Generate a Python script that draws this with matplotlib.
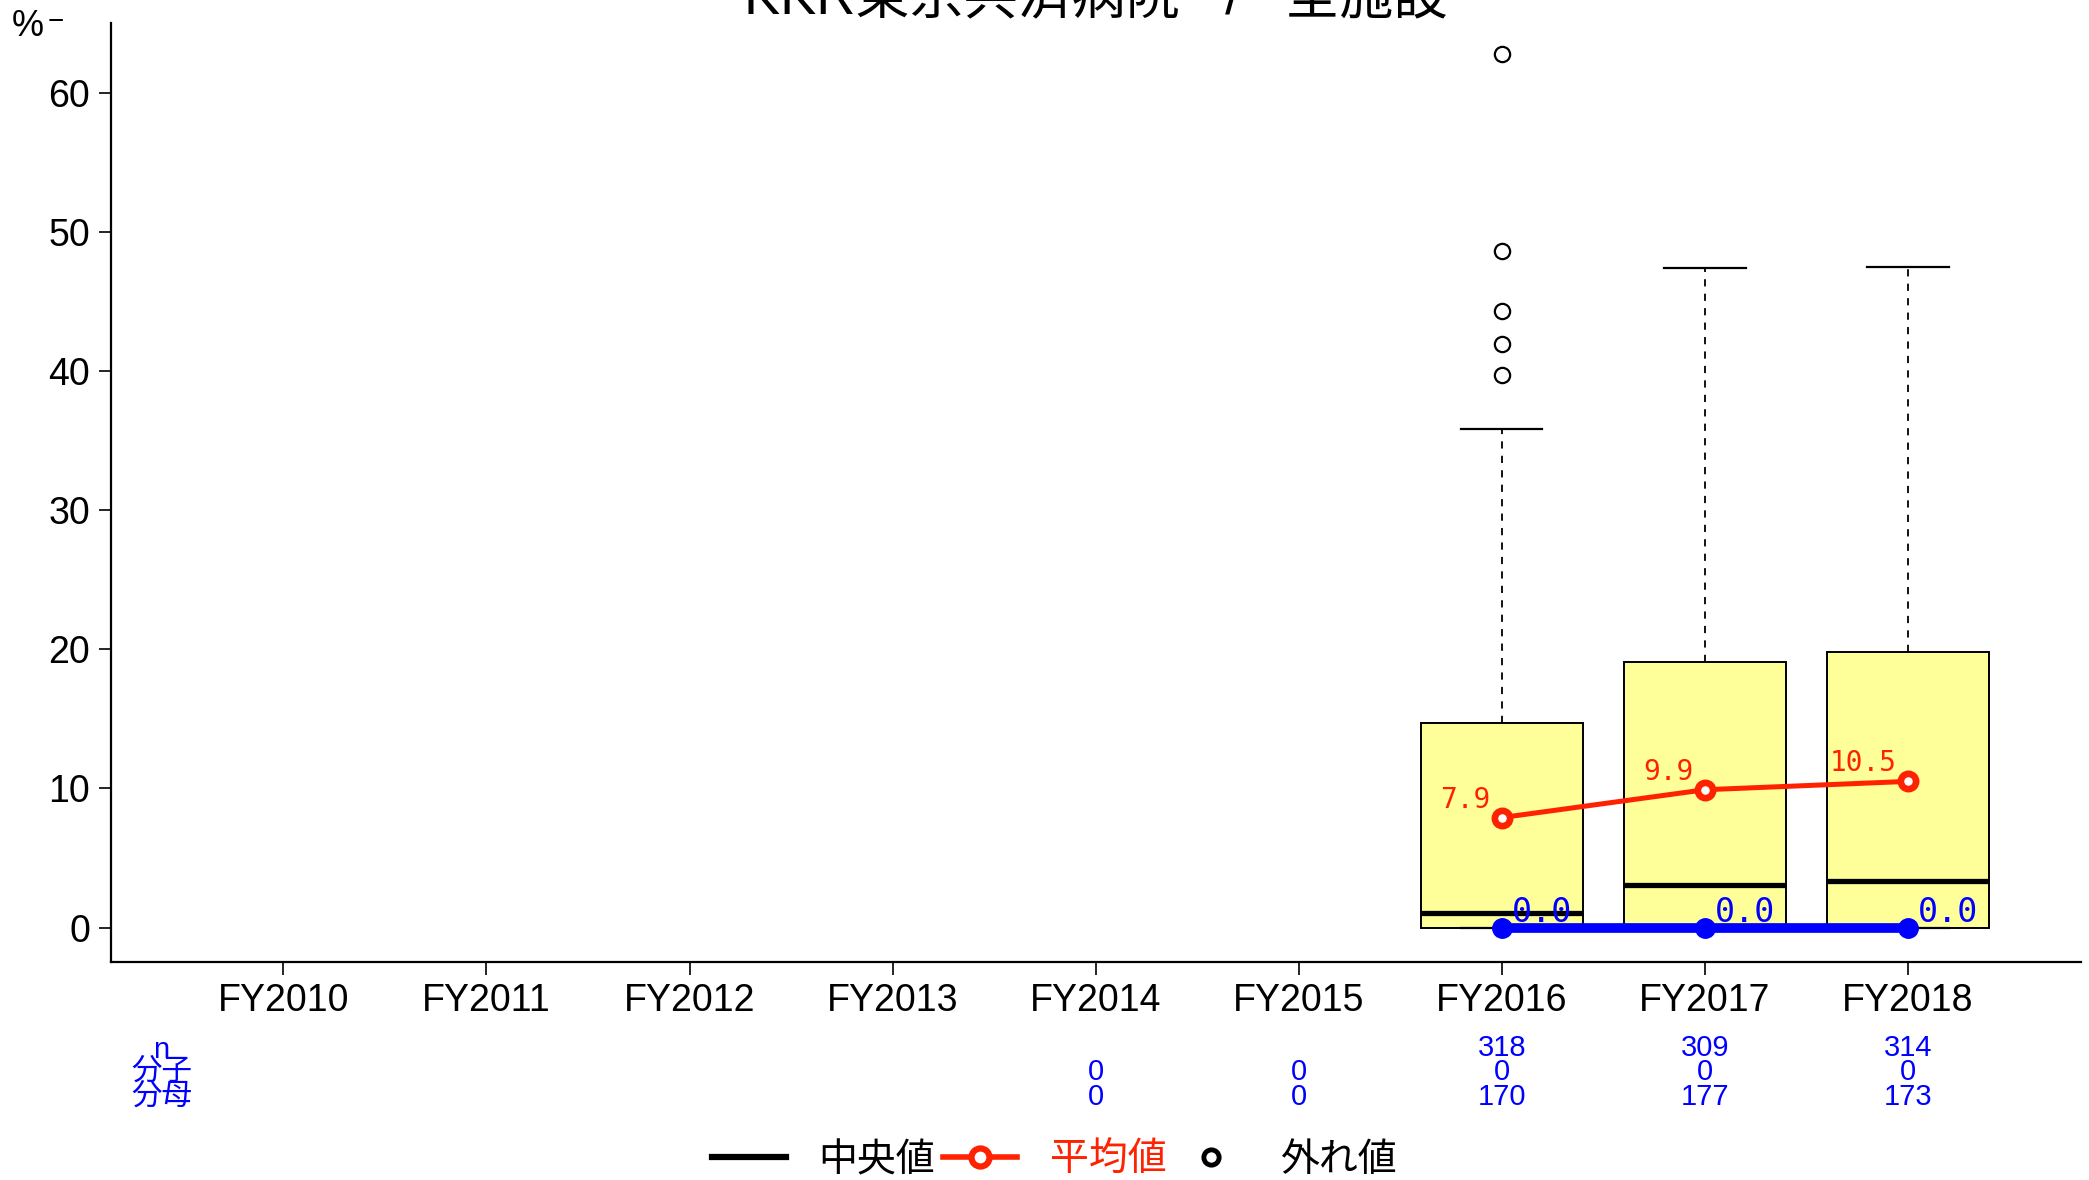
import matplotlib
matplotlib.use("Agg")
import matplotlib.pyplot as plt
from matplotlib.lines import Line2D
from matplotlib import font_manager as fm
import matplotlib.transforms as mtrans

# ---- data ----
years = ["FY2010", "FY2011", "FY2012", "FY2013", "FY2014", "FY2015", "FY2016", "FY2017", "FY2018"]
box_idx = [6, 7, 8]
q1 = [0.0, 0.0, 0.0]
med = [1.05, 3.05, 3.35]
q3 = [14.7, 19.1, 19.8]
whislo = [0.0, 0.0, 0.0]
whishi = [35.8, 47.4, 47.5]
fliers = [[39.7, 41.9, 44.3, 48.6, 62.8], [], []]
means = [7.9, 9.9, 10.5]
ratio = [0.0, 0.0, 0.0]
n_row = ["", "", "", "", "", "", "318", "309", "314"]
num_row = ["", "", "", "", "0", "0", "0", "0", "0"]
den_row = ["", "", "", "", "0", "0", "170", "177", "173"]
yticks = [0, 10, 20, 30, 40, 50, 60]
title = "KKR東京共済病院   /   全施設"

names = {f.name for f in fm.fontManager.ttflist}
latin = "Liberation Sans Narrow" if "Liberation Sans Narrow" in names else "Liberation Sans"
FAM = [latin, "Noto Sans CJK JP", "DejaVu Sans"]
CJK = ["Noto Sans CJK JP", "DejaVu Sans"]
MONO = ["DejaVu Sans Mono", "Liberation Mono"]
plt.rcParams["font.family"] = FAM

RED = "#FF2200"
BLUE = "#0000FF"
YEL = "#FFFF99"

fig = plt.figure(figsize=(20.89, 11.80), dpi=100)
ax = fig.add_axes([0.053, 0.1845, 0.943, 0.796])

stats = []
for i in range(len(box_idx)):
    stats.append(dict(med=med[i], q1=q1[i], q3=q3[i], whislo=whislo[i], whishi=whishi[i], fliers=fliers[i]))

ax.bxp(stats, positions=box_idx, widths=0.8, capwidths=0.4, patch_artist=True, showfliers=True,
       boxprops=dict(facecolor=YEL, edgecolor="black", linewidth=1.4),
       medianprops=dict(color="black", linewidth=3.8),
       whiskerprops=dict(color="black", linewidth=1.3, linestyle=(0, (4, 4))),
       capprops=dict(color="black", linewidth=1.6),
       flierprops=dict(marker="o", markerfacecolor="white", markeredgecolor="black", markersize=11, markeredgewidth=1.6))

# mean line
ax.plot(box_idx, means, color=RED, linewidth=3.6, marker="o", markersize=11, markerfacecolor="white",
        markeredgecolor=RED, markeredgewidth=4.8, zorder=5)
for x, m in zip(box_idx, means):
    ax.annotate(f"{m:.1f}", (x, m), xytext=(-8, 13), textcoords="offset points", ha="right", va="center",
                color=RED, fontsize=20, family=MONO)

# ratio line
ax.plot(box_idx, ratio, color=BLUE, linewidth=7, marker="o", markersize=14, markerfacecolor=BLUE,
        markeredgecolor=BLUE, zorder=6, clip_on=False)
for x, r in zip(box_idx, ratio):
    ax.annotate(f"{r:.1f}", (x, r), xytext=(7, 4), textcoords="offset points", ha="left", va="baseline",
                color=BLUE, fontsize=24, family=MONO, zorder=7)

ax.set_xlim(-0.85, 8.85)
ax.set_ylim(-2.5, 65)
ax.set_xticks(range(len(years)))
ax.set_xticklabels(years)
ax.set_yticks(yticks)
ax.set_yticklabels([str(v) for v in yticks])
ax.tick_params(axis="both", direction="out", length=9, width=1.2, labelsize=27, colors="black")
ax.tick_params(axis="y", pad=6)
ax.tick_params(axis="x", pad=6)
for s in ["top", "right"]:
    ax.spines[s].set_visible(False)
for s in ["left", "bottom"]:
    ax.spines[s].set_linewidth(1.6)

def fy(px):
    return 1 - px / 1180.0

btrans = mtrans.blended_transform_factory(ax.transData, fig.transFigure)
for i in range(len(years)):
    ax.text(i, fy(1048), n_row[i], transform=btrans, ha="center", va="center", color=BLUE, fontsize=21, clip_on=False)
    ax.text(i, fy(1072), num_row[i], transform=btrans, ha="center", va="center", color=BLUE, fontsize=21, clip_on=False)
    ax.text(i, fy(1097), den_row[i], transform=btrans, ha="center", va="center", color=BLUE, fontsize=21, clip_on=False)
ax.text(-0.6, fy(1050), "n", transform=btrans, ha="center", va="center", color=BLUE, fontsize=21, clip_on=False)
ax.text(-0.6, fy(1071), "分子", transform=btrans, ha="center", va="center", color=BLUE, fontsize=22, family=CJK, clip_on=False)
ax.text(-0.6, fy(1096), "分母", transform=btrans, ha="center", va="center", color=BLUE, fontsize=22, family=CJK, clip_on=False)

# title and y label
fig.text(0.5 * (0.053 + 0.996), fy(14), title, ha="center", va="baseline", fontsize=39, family=FAM)
fig.text(12 / 2089, fy(26), "%", ha="left", va="center", fontsize=26)
fig.text(48 / 2089, fy(22), "−", ha="left", va="center", fontsize=20)

# legend
handles = [Line2D([], [], color="black", linewidth=4.5),
           Line2D([], [], color=RED, linewidth=4, marker="o", markersize=13, markerfacecolor="white",
                  markeredgecolor=RED, markeredgewidth=4.5),
           Line2D([], [], linestyle="none", marker="o", markersize=11, markerfacecolor="white",
                  markeredgecolor="black", markeredgewidth=3.5)]
labels = ["中央値", "平均値", "外れ値"]
leg = fig.legend(handles, labels, loc="center", bbox_to_anchor=(0.505, fy(1160)), ncol=3, frameon=False,
                 handlelength=1.9, handletextpad=0.85, columnspacing=0.2, prop=dict(family=CJK, size=28))
leg.get_texts()[1].set_color(RED)

fig.savefig("out.png", dpi=100)
